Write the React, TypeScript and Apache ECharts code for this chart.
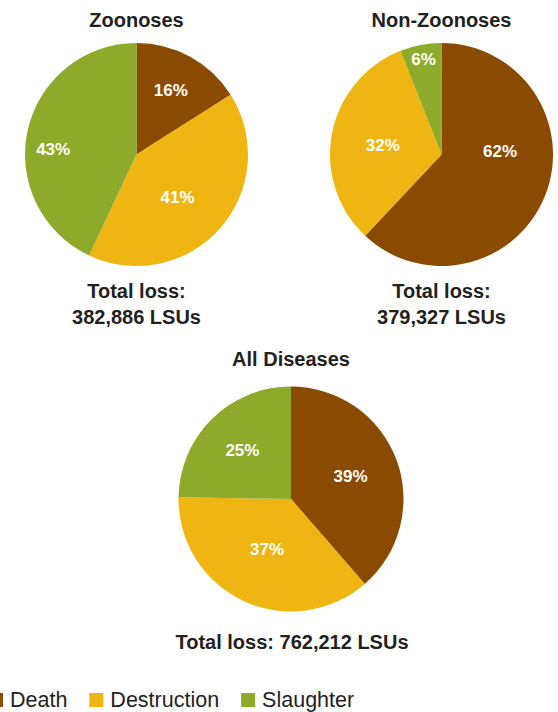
import React, { useEffect, useRef } from "react";
import * as echarts from "echarts";

const categories = ["Death", "Destruction", "Slaughter"];
const zoonosesShares = [16, 41, 43];
const nonZoonosesShares = [62, 32, 6];
const allDiseasesShares = [39, 37, 25];
const panelTitles = ["Zoonoses", "Non-Zoonoses", "All Diseases"];
const totalLossLabels = [
  "Total loss:\n382,886 LSUs",
  "Total loss:\n379,327 LSUs",
  "Total loss: 762,212 LSUs",
];

const COLORS = ["#8A4B00", "#EFB513", "#8EAA2B"];
const FONT = '"Liberation Sans", Arial, Helvetica, sans-serif';
const TEXT = "#231F20";

// label nudges (style only) for each panel's slice labels
const labelNudges = [
  [[6, -13], [-3, 4], [-26, 8]],
  [[4, -25], [-1, 2], [-7, -37]],
  [[4, -2], [1, -3], [-7, -6]],
];

const panels = [
  { shares: zoonosesShares, center: [136.5, 154.5], radius: 111.5 },
  { shares: nonZoonosesShares, center: [441.5, 154.5], radius: 111.5 },
  { shares: allDiseasesShares, center: [291, 499], radius: 112.5 },
];

function boldText(text: string, x: number, y: number) {
  return {
    type: "text",
    x,
    y,
    silent: true,
    style: {
      text,
      fill: TEXT,
      fontSize: 20,
      fontWeight: "bold",
      fontFamily: FONT,
      lineHeight: 26,
      align: "center",
      verticalAlign: "middle",
      textAlign: "center",
      textVerticalAlign: "middle",
    },
  };
}

export default function App() {
  const ref = useRef<HTMLDivElement>(null);

  useEffect(() => {
    if (!ref.current) return;
    const chart = echarts.init(ref.current, null, { renderer: "svg" });

    const series = panels.map((p, si) => ({
      type: "pie",
      name: panelTitles[si],
      center: p.center,
      radius: p.radius,
      startAngle: 90,
      clockwise: true,
      avoidLabelOverlap: false,
      itemStyle: { borderWidth: 0 },
      emphasis: { disabled: true },
      label: {
        show: true,
        position: "inside",
        formatter: "{c}%",
        color: "#FFFFFF",
        fontSize: 17,
        fontWeight: "bold",
        fontFamily: FONT,
      },
      labelLine: { show: false },
      labelLayout: (params: any) => {
        const n = labelNudges[si][params.dataIndex] || [0, 0];
        return { dx: n[0], dy: n[1] };
      },
      data: categories.map((name, i) => ({ name, value: p.shares[i] })),
    }));

    chart.setOption({
      animation: false,
      color: COLORS,
      legend: {
        data: categories,
        left: -11,
        top: 689,
        padding: 0,
        itemWidth: 14,
        itemHeight: 14,
        itemGap: 22,
        icon: "rect",
        selectedMode: false,
        textStyle: {
          color: TEXT,
          fontSize: 21.5,
          fontFamily: FONT,
          padding: [0, 0, 0, 2],
        },
      },
      graphic: [
        boldText(panelTitles[0], 136.5, 19.5),
        boldText(panelTitles[1], 441.5, 19.5),
        boldText(totalLossLabels[0], 136.5, 304),
        boldText(totalLossLabels[1], 441.5, 304),
        boldText(panelTitles[2], 291, 358.5),
        boldText(totalLossLabels[2], 292, 641.5),
      ],
      series,
    });

    return () => chart.dispose();
  }, []);

  return (
    <div
      ref={ref}
      style={{ position: "absolute", left: 0, top: 0, width: 558, height: 712, background: "#fff" }}
    />
  );
}
